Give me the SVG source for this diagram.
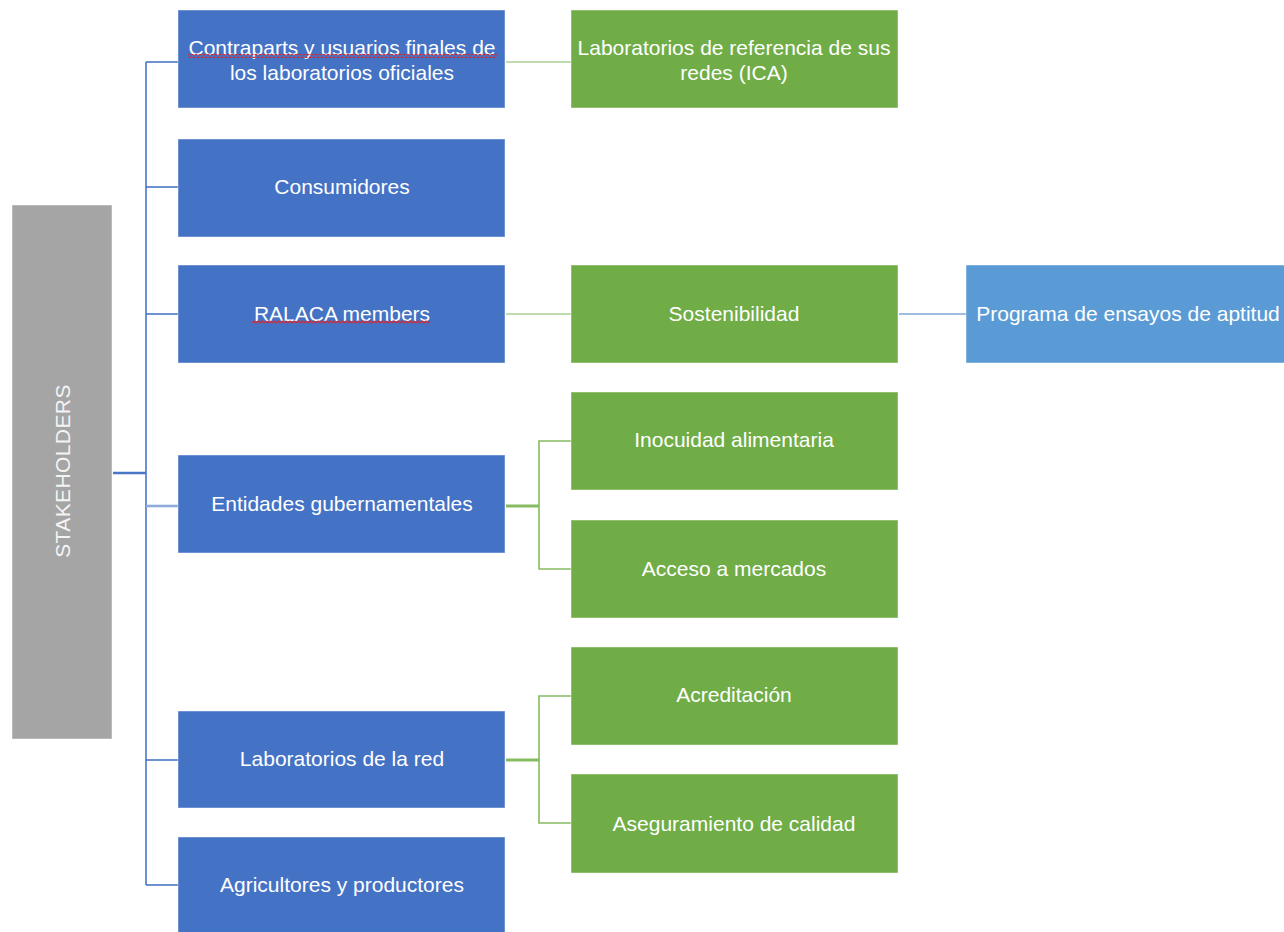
<svg xmlns="http://www.w3.org/2000/svg" width="1284" height="932" viewBox="0 0 1284 932">
  <style>
    .lbl { font-family: "Liberation Sans", Arial, sans-serif; font-size: 21px; fill: #ffffff; text-anchor: middle; dominant-baseline: central; }
    .blue { fill: #4472c4; stroke: #ffffff; stroke-opacity: 0.45; stroke-width: 1; }
    .green { fill: #70ad47; stroke: #ffffff; stroke-opacity: 0.45; stroke-width: 1; }
    .sky { fill: #5b9bd5; stroke: #ffffff; stroke-opacity: 0.45; stroke-width: 1; }
    .gray { fill: #a5a5a5; stroke: #ffffff; stroke-opacity: 0.45; stroke-width: 1; }
    .cb { fill: none; stroke: #4a76c6; stroke-width: 1.6; }
    .cg { fill: none; stroke: #86bb62; stroke-width: 1.6; }
    .cs { fill: none; stroke: #9dbde3; stroke-width: 1.8; }
  </style>
  <defs>
    <pattern id="squiggle" width="4" height="4" patternUnits="userSpaceOnUse">
      <path d="M0 3 L2 1 L4 3" fill="none" stroke="#d9262c" stroke-width="1.2"/>
    </pattern>
  </defs>
  <rect width="1284" height="932" fill="#ffffff"/>

  <g id="connectors">
    <!-- root to trunk -->
    <line class="cb" x1="113" y1="473" x2="146" y2="473" style="stroke-width:2.6"/>
    <!-- trunk -->
    <line class="cb" x1="146" y1="62" x2="146" y2="885"/>
    <!-- trunk branches -->
    <line class="cb" x1="146" y1="62" x2="178" y2="62"/>
    <line class="cb" x1="146" y1="187" x2="178" y2="187"/>
    <line class="cb" x1="146" y1="314" x2="178" y2="314"/>
    <line class="cb" x1="146" y1="506" x2="178" y2="506" style="stroke:#8eaadb;stroke-width:2.6"/>
    <line class="cb" x1="146" y1="760" x2="178" y2="760"/>
    <line class="cb" x1="146" y1="885" x2="178" y2="885"/>
    <!-- second level -->
    <line class="cg" x1="506" y1="62" x2="571" y2="62" style="stroke:#a9d08e"/>
    <line class="cg" x1="506" y1="314" x2="571" y2="314" style="stroke:#a9d08e"/>
    <path class="cg" d="M506 506 H539" style="stroke-width:3"/>
    <path class="cg" d="M571 441 H539 V569 H571"/>
    <path class="cg" d="M506 760 H539" style="stroke-width:3"/>
    <path class="cg" d="M571 696 H539 V823 H571"/>
    <!-- third level -->
    <line class="cs" x1="899" y1="314" x2="966" y2="314"/>
  </g>

  <g id="stakeholders">
    <rect class="gray" x="12" y="205" width="100" height="534"/>
    <text class="lbl" transform="translate(62 471) rotate(-90)" style="font-size:21px;letter-spacing:0.4px;fill:#f4f4f4">STAKEHOLDERS</text>
  </g>

  <g id="contraparts">
    <rect class="blue" x="178" y="10" width="327" height="98"/>
    <text class="lbl" x="342" y="47">Contraparts y usuarios finales de</text>
    <text class="lbl" x="342" y="72">los laboratorios oficiales</text>
    <rect x="188" y="54" width="309" height="4" fill="url(#squiggle)"/>
  </g>

  <g id="consumidores">
    <rect class="blue" x="178" y="139" width="327" height="98"/>
    <text class="lbl" x="342" y="186">Consumidores</text>
  </g>

  <g id="ralaca">
    <rect class="blue" x="178" y="265" width="327" height="98"/>
    <text class="lbl" x="342" y="313">RALACA members</text>
    <rect x="252" y="320" width="178" height="4" fill="url(#squiggle)"/>
  </g>

  <g id="entidades">
    <rect class="blue" x="178" y="455" width="327" height="98"/>
    <text class="lbl" x="342" y="503">Entidades gubernamentales</text>
  </g>

  <g id="laboratorios-red">
    <rect class="blue" x="178" y="711" width="327" height="97"/>
    <text class="lbl" x="342" y="758">Laboratorios de la red</text>
  </g>

  <g id="agricultores">
    <rect class="blue" x="178" y="837" width="327" height="100"/>
    <text class="lbl" x="342" y="884">Agricultores y productores</text>
  </g>

  <g id="lab-referencia">
    <rect class="green" x="571" y="10" width="327" height="98"/>
    <text class="lbl" x="734" y="47">Laboratorios de referencia de sus</text>
    <text class="lbl" x="734" y="72">redes (ICA)</text>
  </g>

  <g id="sostenibilidad">
    <rect class="green" x="571" y="265" width="327" height="98"/>
    <text class="lbl" x="734" y="313">Sostenibilidad</text>
  </g>

  <g id="inocuidad">
    <rect class="green" x="571" y="392" width="327" height="98"/>
    <text class="lbl" x="734" y="439">Inocuidad alimentaria</text>
  </g>

  <g id="acceso">
    <rect class="green" x="571" y="520" width="327" height="98"/>
    <text class="lbl" x="734" y="568">Acceso a mercados</text>
  </g>

  <g id="acreditacion">
    <rect class="green" x="571" y="647" width="327" height="98"/>
    <text class="lbl" x="734" y="694">Acreditación</text>
  </g>

  <g id="aseguramiento">
    <rect class="green" x="571" y="774" width="327" height="99"/>
    <text class="lbl" x="734" y="823">Aseguramiento de calidad</text>
  </g>

  <g id="programa">
    <rect class="sky" x="966" y="265" width="330" height="98"/>
    <text class="lbl" x="1128" y="313">Programa de ensayos de aptitud</text>
  </g>
</svg>
